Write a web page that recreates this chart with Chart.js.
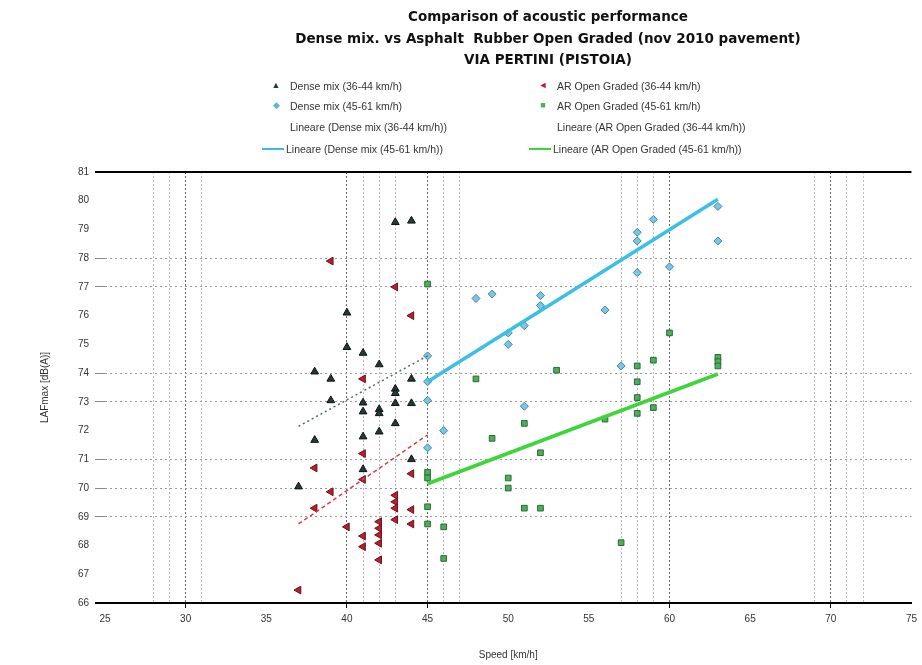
<!DOCTYPE html>
<html>
<head>
<meta charset="UTF-8">
<title>Comparison of acoustic performance</title>
<script src="https://cdn.jsdelivr.net/npm/chart.js@4.4.0/dist/chart.umd.min.js"></script>
<style>
*{margin:0;padding:0}
body{background:#fff;width:922px;height:665px;overflow:hidden;position:relative}
#chart{position:absolute;left:0;top:0}
#title{position:absolute;left:198px;width:700px;top:6px;text-align:center;font:bold 13.5px "DejaVu Sans",sans-serif;line-height:21.5px;color:#111}
.item{position:absolute;height:16px;line-height:16px;font:10.5px "Liberation Sans",Arial,sans-serif;color:#333;white-space:nowrap}
.mark{display:inline-block;width:28px;text-align:center;font-size:9px;vertical-align:top}
.line{display:inline-block;width:22px;height:0;vertical-align:middle;margin-right:2px;position:relative;top:-1px}
</style>
</head>
<body>
<canvas id="chart" width="922" height="665"></canvas>
<div id="title">Comparison of acoustic performance<br>Dense mix. vs Asphalt&nbsp; Rubber Open Graded (nov 2010 pavement)<br>VIA PERTINI (PISTOIA)</div>
<div id="legend"></div>
<script>
// speed values (km/h) and levels (dB(A))
var denseLowX = [37,38,38,39,39,40,40,41,41,41,41,41,42,42,42,42,43,43,43,43,43,44,44,44,44];
var denseLowY = [70.05,74.05,71.67,73.8,73.05,76.1,74.9,74.7,72.97,72.66,71.79,70.65,74.3,72.74,72.6,71.96,79.25,73.45,73.3,72.95,72.25,79.3,73.8,72.95,71.0];

var denseHighX = [45,45,45,45,46,48,49,50,50,51,51,52,52,56,57,58,58,58,59,60,63,63];
var denseHighY = [74.6,73.7,73.05,71.4,72.0,76.6,76.75,75.4,75.0,75.65,72.85,76.7,76.35,76.2,74.25,78.9,78.6,77.5,79.35,77.7,79.8,78.6];

var arLowX = [37,38,38,39,39,40,41,41,41,41,41,42,42,42,42,42,43,43,43,43,43,44,44,44,44];
var arLowY = [66.45,70.7,69.3,77.9,69.87,68.65,73.8,71.2,70.3,68.33,67.96,68.83,68.6,68.37,68.08,67.5,77.0,69.75,69.52,69.3,68.9,76.0,70.5,69.25,68.75];

var arHighX = [45,45,45,45,45,46,46,48,49,50,50,51,51,52,52,53,56,57,58,58,58,58,59,59,60,63,63,63];
var arHighY = [77.1,70.55,70.35,69.35,68.75,68.65,67.55,73.8,71.73,70.35,70.0,72.25,69.3,71.23,69.3,74.1,72.4,68.1,74.25,73.7,73.15,72.6,74.45,72.8,75.4,74.55,74.4,74.25];

// linear trend lines (end points)
var trendDenseLowX = [37,45],  trendDenseLowY = [72.15,74.6];
var trendDenseHighX = [45,63], trendDenseHighY = [73.7,80.05];
var trendArLowX = [37,45],     trendArLowY = [68.75,71.85];
var trendArHighX = [45,63],    trendArHighY = [70.15,73.97];

var labels = [
	"Dense mix (36-44 km/h)", "Dense mix (45-61 km/h)",
	"Lineare (Dense mix (36-44 km/h))", "Lineare (Dense mix (45-61 km/h))",
	"AR Open Graded (36-44 km/h)", "AR Open Graded (45-61 km/h)",
	"Lineare (AR Open Graded (36-44 km/h))", "Lineare (AR Open Graded (45-61 km/h))"
];

var xGridMajor = [30,40,45,60,70];
var xGridMinor = [28,29,31,41,42,43,46,47,57,58,59,69,71,72];
var yGrid = [69,70,71,73,74,77,78];

function pts(xs, ys){
	return xs.map(function(x,i){ return {x:x, y:ys[i]}; });
}

var fontFam = '"Liberation Sans", Arial, sans-serif';

var ctx = document.getElementById("chart").getContext("2d");
var chart = new Chart(ctx, {
	type: "scatter",
	data: {
		datasets: [
			{label: labels[3], data: pts(trendDenseHighX, trendDenseHighY), showLine: true, pointRadius: 0, borderColor: "#3cbfe4", borderWidth: 3.5, order: 1},
			{label: labels[7], data: pts(trendArHighX, trendArHighY), showLine: true, pointRadius: 0, borderColor: "#3ed43a", borderWidth: 3.5, order: 1},
			{label: labels[2], data: pts(trendDenseLowX, trendDenseLowY), showLine: true, pointRadius: 0, borderColor: "#4f6b66", borderWidth: 1.5, borderDash: [2,3], order: 1},
			{label: labels[6], data: pts(trendArLowX, trendArLowY), showLine: true, pointRadius: 0, borderColor: "#d0404e", borderWidth: 1.5, borderDash: [4,3], order: 1},
			{label: labels[0], data: pts(denseLowX, denseLowY), pointStyle: "triangle", pointRadius: 4.5, backgroundColor: "#24393a", borderColor: "#111", borderWidth: 1, order: 2},
			{label: labels[1], data: pts(denseHighX, denseHighY), pointStyle: "rectRot", pointRadius: 4, backgroundColor: "#7cc6e4", borderColor: "#3d86a8", borderWidth: 1, order: 2},
			{label: labels[4], data: pts(arLowX, arLowY), pointStyle: "triangle", rotation: 270, pointRadius: 4.5, backgroundColor: "#b3202e", borderColor: "#6e0f18", borderWidth: 1, order: 2},
			{label: labels[5], data: pts(arHighX, arHighY), pointStyle: "rect", pointRadius: 4, backgroundColor: "#4caf5a", borderColor: "#2b6a35", borderWidth: 1, order: 2}
		]
	},
	options: {
		responsive: false,
		animation: false,
		layout: {padding: {top: 172, right: 9, left: 0, bottom: 0}},
		plugins: {legend: {display: false}, tooltip: {enabled: false}},
		scales: {
			x: {
				type: "linear", min: 25, max: 75,
				afterFit: function(s){ s.height = 62; },
				ticks: {stepSize: 1, autoSkip: false, maxRotation: 0, padding: 5, color: "#333", font: {size: 10, family: fontFam},
					callback: function(v){ return v % 5 === 0 ? v : ""; }},
				grid: {
					lineWidth: 1, tickLength: 5,
					color: function(c){
						if (!c.tick) return "rgba(0,0,0,0)";
						if (xGridMajor.indexOf(c.tick.value) >= 0) return "#666";
						if (xGridMinor.indexOf(c.tick.value) >= 0) return "#bbb";
						return "rgba(0,0,0,0)";
					},
					tickColor: function(c){
						return c.tick && xGridMajor.indexOf(c.tick.value) >= 0 ? "#000" : "rgba(0,0,0,0)";
					}
				},
				border: {display: true, color: "#000", width: 2, dash: function(c){ return c.tick ? [2,2] : []; }},
				title: {display: true, text: "Speed [km/h]", color: "#333", font: {size: 10, family: fontFam}, padding: {top: 0, bottom: 4}}
			},
			y: {
				min: 66, max: 81,
				afterFit: function(s){ s.width = 105; },
				ticks: {stepSize: 1, padding: 6, color: "#333", font: {size: 10, family: fontFam}},
				grid: {
					tickLength: 10,
					color: function(c){
						if (!c.tick) return "rgba(0,0,0,0)";
						var v = c.tick.value;
						if (v === 81 || v === 66) return "#000";
						if (yGrid.indexOf(v) >= 0) return "#999";
						return "rgba(0,0,0,0)";
					},
					lineWidth: function(c){ return c.tick && (c.tick.value === 81 || c.tick.value === 66) ? 2 : 1; },
					tickColor: function(c){
						if (!c.tick) return "rgba(0,0,0,0)";
						var v = c.tick.value;
						if (v === 81 || v === 66) return "#000";
						if (yGrid.indexOf(v) >= 0) return "#888";
						return "rgba(0,0,0,0)";
					}
				},
				border: {display: false, dash: function(c){
					if (!c.tick) return [];
					return (c.tick.value === 81 || c.tick.value === 66) ? [] : [2,3];
				}},
				title: {display: true, text: "LAFmax [dB(A)]", color: "#333", font: {size: 10, family: fontFam}, padding: {top: 39, bottom: 0}}
			}
		}
	}
});

// legend in two columns, like the original
var legend = document.getElementById("legend");
var legendItems = [
	{i: 0, col: 0, row: 0, mark: "\u25B2", color: "#24393a"},
	{i: 1, col: 0, row: 1, mark: "\u25C6", color: "#5fb3d6"},
	{i: 2, col: 0, row: 2},
	{i: 3, col: 0, row: 3, line: "#3cbfe4"},
	{i: 4, col: 1, row: 0, mark: "\u25C4", color: "#b3202e"},
	{i: 5, col: 1, row: 1, mark: "\u25A0", color: "#4caf5a"},
	{i: 6, col: 1, row: 2},
	{i: 7, col: 1, row: 3, line: "#3ed43a"}
];
var colX = [262, 529];
var rowY = [80, 100, 121, 143];
legendItems.forEach(function(it){
	var d = document.createElement("div");
	d.className = "item";
	d.style.left = colX[it.col] + "px";
	d.style.top = rowY[it.row] + "px";
	var html = "";
	if (it.line) html += '<span class="line" style="border-top:2px solid ' + it.line + '"></span>';
	else if (it.mark) html += '<span class="mark" style="color:' + it.color + '">' + it.mark + '</span>';
	else html += '<span class="mark"></span>';
	d.innerHTML = html + labels[it.i];
	legend.appendChild(d);
});
</script>
</body>
</html>
